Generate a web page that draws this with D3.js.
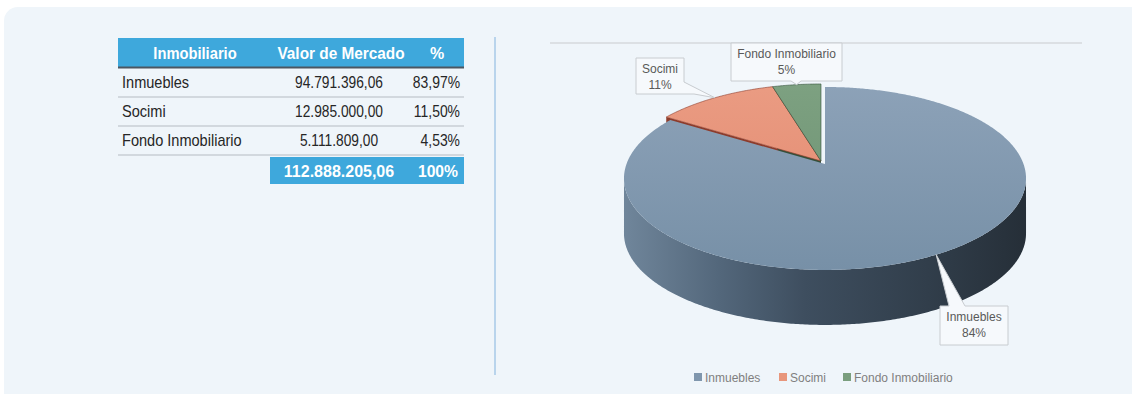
<!DOCTYPE html>
<html>
<head>
<meta charset="utf-8">
<script src="https://cdn.jsdelivr.net/npm/d3@7"></script>
<style>
  html, body { margin: 0; padding: 0; background: #ffffff; }
  svg { display: block; }
</style>
</head>
<body>
<svg id="chart" width="1132" height="394"></svg>
<script>
// Portfolio data
const categories = ["Inmuebles", "Socimi", "Fondo Inmobiliario"];
const marketValues = [94791396.06, 12985000.00, 5111809.00];
const shares = [83.97, 11.50, 4.53];
const pieLabels = ["84%", "11%", "5%"];
const tableHeaders = ["Inmobiliario", "Valor de Mercado", "%"];
const totalShareLabel = "100%";

const colors = {
  top: ["#8ea3b9", "#eb9d84", "#7ea282"],
  topLow: ["#7790a7", "#e1876d", "#6b8f70"],
  wall: ["#4a5c6e", "#8d3c2c", "#34503a"],
  legend: ["#7f96ad", "#e8967c", "#7a9e7e"]
};

const es = d3.formatLocale({ decimal: ",", thousands: ".", grouping: [3], currency: ["", " €"] });
const fmtMoney = es.format(",.2f");
const fmtPct = v => es.format(".2f")(v) + "%";

const svg = d3.select("#chart");
const defs = svg.append("defs");

// Card background
svg.append("rect")
  .attr("x", 4).attr("y", 7).attr("width", 1150).attr("height", 400)
  .attr("rx", 14).attr("fill", "#eff5fa");

// ---------- Table ----------
const tableFont = "'Liberation Sans', Arial, sans-serif";
const T = { left: 118, right: 464, headTop: 38, headBottom: 67, nameX: 122, valX: 339, pctX: 459, pctHeadX: 437, nameHeadX: 195 };
const blue = "#3ea8dc";

// condensed cell text: horizontal squeeze keeps the narrow table look
function cellText(parent, x, y, txt, opts) {
  return parent.append("text")
    .attr("transform", `translate(${x},${y}) scale(${opts.sx || 1},1)`)
    .attr("text-anchor", opts.anchor || "start")
    .attr("font-family", tableFont)
    .attr("font-weight", opts.bold ? "bold" : "normal")
    .attr("font-size", 16)
    .attr("fill", opts.fill || "#262626")
    .text(txt);
}

const table = svg.append("g");
table.append("rect").attr("x", T.left).attr("y", T.headTop)
  .attr("width", T.right - T.left).attr("height", T.headBottom - T.headTop).attr("fill", blue);
table.append("line").attr("x1", T.left).attr("x2", T.right)
  .attr("y1", T.headBottom + 0.5).attr("y2", T.headBottom + 0.5)
  .attr("stroke", "#4b5661").attr("stroke-width", 2);

const headX = [T.nameHeadX, T.valX + 2, T.pctHeadX];
const headSx = [0.92, 0.96, 1];
tableHeaders.forEach((h, i) =>
  cellText(table, headX[i], 59, h, { anchor: "middle", bold: true, fill: "#ffffff", sx: headSx[i] }));

const rowY = d3.scaleBand().domain(categories).range([68, 155]).paddingInner(0);
categories.forEach((c, i) => {
  const y0 = rowY(c), yb = y0 + rowY.bandwidth() / 2 + 5.5;
  table.append("line")
    .attr("x1", T.left).attr("x2", T.right)
    .attr("y1", y0 + rowY.bandwidth()).attr("y2", y0 + rowY.bandwidth())
    .attr("stroke", "#d2d8de").attr("stroke-width", 2);
  cellText(table, T.nameX, yb, c, { sx: 0.91 });
  cellText(table, T.valX, yb, fmtMoney(marketValues[i]), { anchor: "middle", sx: 0.86 });
  cellText(table, T.pctX + 1, yb, fmtPct(shares[i]), { anchor: "end", sx: 0.87 });
});

// Total row
const totalValue = d3.sum(marketValues);
table.append("rect").attr("x", 270).attr("y", 157)
  .attr("width", T.right - 270).attr("height", 27).attr("fill", blue);
cellText(table, T.valX, 177, fmtMoney(totalValue), { anchor: "middle", bold: true, fill: "#ffffff", sx: 1 });
cellText(table, T.pctX - 1, 177, totalShareLabel, { anchor: "end", bold: true, fill: "#ffffff", sx: 0.98 });

// Divider and chart rule
svg.append("line").attr("x1", 495).attr("x2", 495).attr("y1", 37).attr("y2", 375)
  .attr("stroke", "#a7c9e7").attr("stroke-width", 1.5);
svg.append("line").attr("x1", 550).attr("x2", 1082).attr("y1", 43).attr("y2", 43)
  .attr("stroke", "#d6d9dd").attr("stroke-width", 1.5);

// ---------- 3D pie ----------
const P = { cx: 821, cy: 161, a: 198.5, b: 89.2, k: 0.158, depth: 55 };
const explode = [[4, 3], [0, 0], [0, 0]];

function proj(theta, r, off, dz) {
  const u = r * Math.sin(theta), v = r * Math.cos(theta);
  const w = 1 + P.k * v;
  return [P.cx + off[0] + P.a * u / w, P.cy + off[1] - P.b * v / w + (dz || 0)];
}
function arcPts(a0, a1, off, dz) {
  const n = Math.max(2, Math.ceil(Math.abs(a1 - a0) / 0.01));
  return d3.range(n + 1).map(i => proj(a0 + (a1 - a0) * i / n, 1, off, dz));
}
const line = d3.line();

const arcs = d3.pie().sort(null).value(d => d)(shares);

// gradients
categories.forEach((c, i) => {
  const g = defs.append("linearGradient").attr("id", "top" + i)
    .attr("gradientUnits", "userSpaceOnUse")
    .attr("x1", 0).attr("x2", 0).attr("y1", P.cy - P.b).attr("y2", P.cy + P.b + 20);
  g.append("stop").attr("offset", 0).attr("stop-color", colors.top[i]);
  g.append("stop").attr("offset", 1).attr("stop-color", colors.topLow[i]);
});
const sideGrad = defs.append("linearGradient").attr("id", "side0")
  .attr("gradientUnits", "userSpaceOnUse")
  .attr("x1", 620).attr("x2", 1030).attr("y1", 0).attr("y2", 0);
[[0, "#71879c"], [0.25, "#52667a"], [0.45, "#3e4e5f"], [0.75, "#313e4b"], [1, "#252e37"]]
  .forEach(([o, c]) => sideGrad.append("stop").attr("offset", o).attr("stop-color", c));

const pie = svg.append("g");
const visLo = Math.acos(-P.k);               // right silhouette angle
const visHi = 2 * Math.PI - Math.acos(-P.k); // left silhouette angle

// back slices first: radial walls then tops
[1, 2].forEach(i => {
  const d = arcs[i], off = explode[i];
  const c = proj(0, 0, off);
  [d.startAngle, d.endAngle].forEach(ang => {
    const p = proj(ang, 1, off);
    pie.append("path")
      .attr("d", line([c, p, [p[0], p[1] + P.depth], [c[0], c[1] + P.depth]]) + "Z")
      .attr("fill", colors.wall[i]);
  });
});
[1, 2].forEach(i => {
  const d = arcs[i], off = explode[i];
  const c = proj(0, 0, off);
  pie.append("path")
    .attr("d", line([c].concat(arcPts(d.startAngle, d.endAngle, off))) + "Z")
    .attr("fill", "url(#top" + i + ")")
    .attr("stroke", colors.wall[i]).attr("stroke-width", 0.6).attr("stroke-linejoin", "round");
});

// front slice: outer wall then top
{
  const d = arcs[0], off = explode[0];
  const a0 = Math.max(d.startAngle, visLo), a1 = Math.min(d.endAngle, visHi);
  const topRim = arcPts(a0, a1, off);
  const botRim = arcPts(a0, a1, off, P.depth).reverse();
  pie.append("path").attr("d", line(topRim.concat(botRim)) + "Z")
    .attr("fill", "url(#side0)");
  const c = proj(0, 0, off);
  pie.append("path")
    .attr("d", line([c].concat(arcPts(d.startAngle, d.endAngle, off))) + "Z")
    .attr("fill", "url(#top0)");
}

// ---------- Data callouts ----------
const labelFont = "'Liberation Sans', Arial, sans-serif";
const callouts = [
  { box: [940, 306, 1008, 345], wedge: "top", base: [949, 965] },
  { box: [636, 58, 684, 94], wedge: "corner", base: [82, 694] },
  { box: [731, 43, 842, 81], wedge: "bottom", base: [791, 801] }
];
callouts.forEach((co, i) => {
  const d = arcs[i];
  const tip = proj((d.startAngle + d.endAngle) / 2, 1, explode[i]);
  const [x0, y0, x1, y1] = co.box;
  let pts;
  if (co.wedge === "top") {
    pts = [[x0, y0], [co.base[0], y0], tip, [co.base[1], y0], [x1, y0], [x1, y1], [x0, y1]];
  } else if (co.wedge === "corner") {
    pts = [[x0, y0], [x1, y0], [x1, co.base[0]], tip, [co.base[1], y1], [x0, y1]];
  } else {
    pts = [[x0, y0], [x1, y0], [x1, y1], [co.base[1], y1], tip, [co.base[0], y1], [x0, y1]];
  }
  const g = svg.append("g");
  g.append("path").attr("d", line(pts) + "Z")
    .attr("fill", "#f6f9fc").attr("stroke", "#c8ccd0").attr("stroke-width", 1);
  const mx = (x0 + x1) / 2;
  g.append("text").attr("x", mx).attr("y", y0 + 14.5)
    .attr("text-anchor", "middle").attr("font-family", labelFont).attr("font-size", 12)
    .attr("fill", "#595959").text(categories[i]);
  g.append("text").attr("x", mx).attr("y", y0 + 30.5)
    .attr("text-anchor", "middle").attr("font-family", labelFont).attr("font-size", 12)
    .attr("fill", "#595959").text(pieLabels[i]);
});

// ---------- Legend ----------
const legendX = [694, 779, 843];
const legend = svg.append("g");
categories.forEach((c, i) => {
  legend.append("rect").attr("x", legendX[i]).attr("y", 373).attr("width", 8).attr("height", 8)
    .attr("fill", colors.legend[i]);
  legend.append("text").attr("x", legendX[i] + 11).attr("y", 381.5)
    .attr("font-family", labelFont).attr("font-size", 12).attr("fill", "#7f7f7f")
    .text(c);
});
</script>
</body>
</html>
